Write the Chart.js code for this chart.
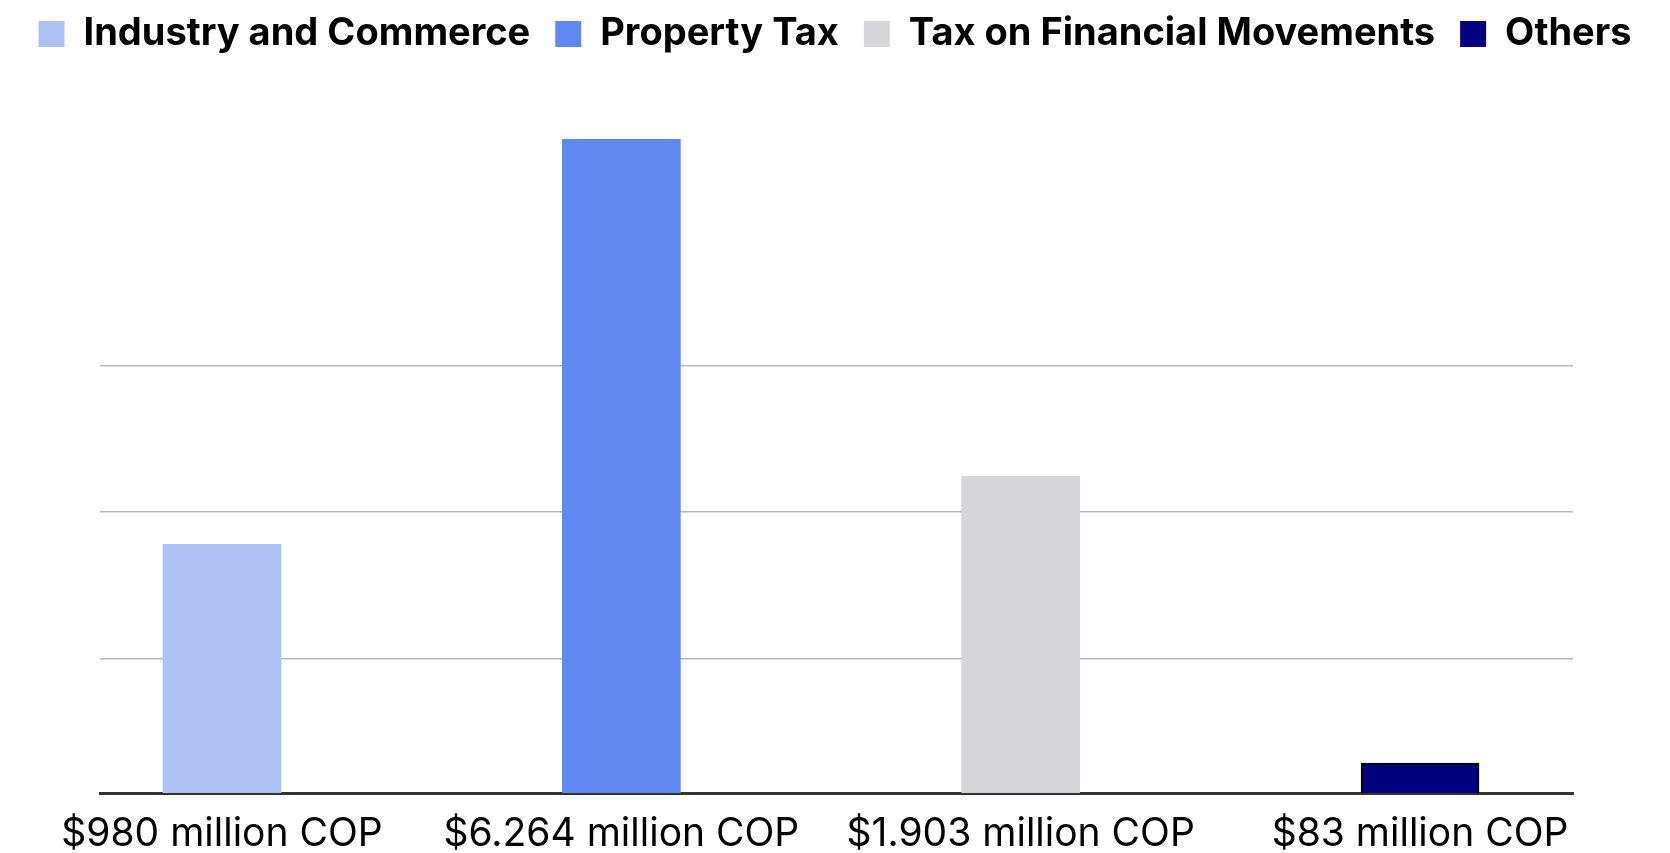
<!DOCTYPE html>
<html>
<head>
<meta charset="utf-8">
<title>Tax revenue</title>
<script src="https://cdn.jsdelivr.net/npm/chart.js@4.4.1/dist/chart.umd.min.js"></script>
<style>
  html, body { margin: 0; padding: 0; background: #fff; }
  #wrap { width: 1670px; height: 853px; position: relative; }
</style>
</head>
<body>
<div id="wrap"><canvas id="taxChart"></canvas></div>
<script>
// legend names, bar labels and bar heights
const seriesNames = ['Industry and Commerce', 'Property Tax', 'Tax on Financial Movements', 'Others'];
const amountLabels = ['$980 million COP', '$6.264 million COP', '$1.903 million COP', '$83 million COP'];
const barHeights = [1781, 4547, 2245, 287];
const gridValues = [1000, 2000, 3000];

const barColors = ['#aec1f5', '#6188f0', '#d6d6d8', '#000080'];
const barBorders = [0, 0, 0, 2];

const FONT = 'Inter, "Liberation Sans", sans-serif';

// legend takes the whole strip above the plot
const legendSpace = {
  id: 'legendSpace',
  beforeInit(chart) {
    const origFit = chart.legend.fit;
    chart.legend.fit = function () {
      origFit.bind(chart.legend)();
      this.height = 83;
    };
  }
};

const ctx = document.getElementById('taxChart').getContext('2d');
const taxChart = new Chart(ctx, {
  type: 'bar',
  data: {
    datasets: [{
      data: barHeights.map((h, i) => ({ x: i, y: h })),
      backgroundColor: barColors,
      borderColor: '#000000',
      borderWidth: barBorders,
      borderSkipped: 'start',
      barThickness: 118
    }]
  },
  options: {
    responsive: true,
    maintainAspectRatio: false,
    animation: false,
    layout: { padding: { left: 0, right: 0, top: -10, bottom: 0 } },
    plugins: {
      tooltip: { enabled: false },
      legend: {
        display: true,
        position: 'top',
        labels: {
          boxWidth: 26,
          boxHeight: 26,
          padding: 25,
          color: '#000',
          font: { family: FONT, size: 38, weight: '700' },
          generateLabels: () => seriesNames.map((name, i) => ({
            text: name,
            fillStyle: barColors[i],
            strokeStyle: barColors[i],
            lineWidth: 0,
            hidden: false,
            index: i
          }))
        }
      }
    },
    scales: {
      x: {
        type: 'linear',
        offset: false,
        min: -0.3055,
        max: 3.383,
        afterBuildTicks: scale => {
          scale.ticks = amountLabels.map((_, i) => ({ value: i }));
        },
        afterFit: scale => { scale.height = 60; },
        grid: { display: false, offset: false, drawTicks: false },
        border: { display: true, color: '#333333', width: 3 },
        ticks: {
          autoSkip: false,
          maxRotation: 0,
          minRotation: 0,
          padding: 22,
          color: '#000',
          font: { family: FONT, size: 39, lineHeight: 1.0 },
          callback: v => amountLabels[v]
        }
      },
      y: {
        min: 82,
        max: 5000,
        afterBuildTicks: scale => {
          scale.ticks = gridValues.map(v => ({ value: v }));
        },
        afterFit: scale => { scale.width = 100; },
        grid: { color: '#b8b8b8', lineWidth: 1.5, drawTicks: false },
        border: { display: false },
        ticks: { display: false }
      },
      yRight: {
        position: 'right',
        afterFit: scale => { scale.width = 97; },
        grid: { display: false, drawTicks: false },
        border: { display: false },
        ticks: { display: false }
      }
    }
  },
  plugins: [legendSpace]
});
</script>
</body>
</html>
